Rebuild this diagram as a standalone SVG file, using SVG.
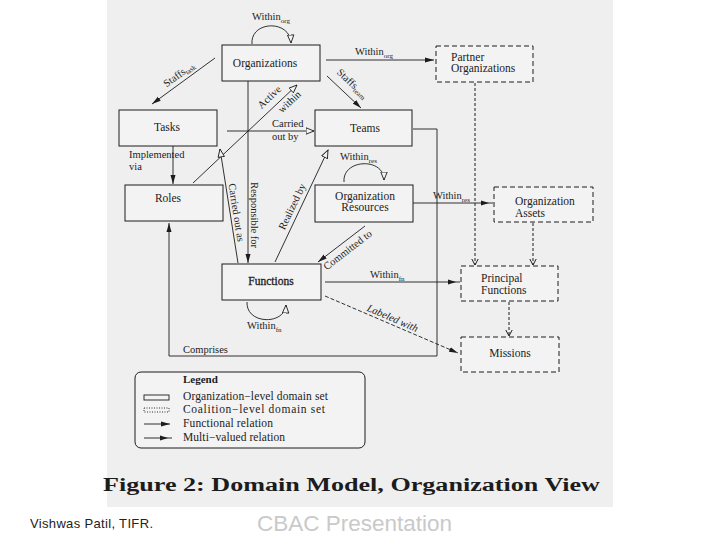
<svg xmlns="http://www.w3.org/2000/svg" width="720" height="540" viewBox="0 0 720 540">
<style>
text{font-family:"Liberation Serif","Times New Roman",serif;fill:#1c1c1c}
.n{font-size:11.5px}
.e{font-size:10.5px}
.s{font-size:7px}
.box{fill:#f3f3f3;stroke:#1c1c1c;stroke-width:1}
.dbox{fill:#f3f3f3;stroke:#1c1c1c;stroke-width:1;stroke-dasharray:5,3}
.ln{fill:none;stroke:#1c1c1c;stroke-width:0.9}
.dl{fill:none;stroke:#1c1c1c;stroke-width:1;stroke-dasharray:3,2}
</style>
<defs>
<marker id="fh" markerUnits="userSpaceOnUse" markerWidth="10" markerHeight="6" refX="9" refY="3" orient="auto"><path d="M0,0.5 L9,3 L0,5.5 z" fill="#1c1c1c"/></marker>
<marker id="oh" markerUnits="userSpaceOnUse" markerWidth="10" markerHeight="8" refX="8.5" refY="4" orient="auto"><path d="M0.5,0.8 L8.5,4 L0.5,7.2 z" fill="#f3f3f3" stroke="#1c1c1c" stroke-width="0.9"/></marker>
<marker id="mh" markerUnits="userSpaceOnUse" markerWidth="13" markerHeight="6" refX="12" refY="3" orient="auto"><path d="M0,0.5 L8,3 L0,5.5 z" fill="#1c1c1c"/></marker>
<marker id="vh" markerUnits="userSpaceOnUse" markerWidth="8" markerHeight="8" refX="6.5" refY="4" orient="auto"><path d="M0.5,0.8 L6.5,4 L0.5,7.2" fill="none" stroke="#1c1c1c" stroke-width="1"/></marker>
</defs>
<rect x="0" y="0" width="720" height="540" fill="#ffffff"/>
<rect x="107" y="0" width="506" height="507" fill="#efefef"/>

<g id="connectors">
<path class="ln" d="M252,44 C250,21 290,19 291,43" marker-end="url(#oh)"/>
<text class="e" x="252" y="20">Within<tspan class="s" dy="2.5">org</tspan></text>
<line class="ln" x1="326" y1="60" x2="434" y2="60" marker-end="url(#fh)"/>
<text class="e" x="355" y="55">Within<tspan class="s" dy="2.5">org</tspan></text>
<line class="ln" x1="215" y1="58" x2="152" y2="104" marker-end="url(#fh)"/>
<text class="e" transform="translate(181,77) rotate(-36)" text-anchor="middle">Staffs<tspan class="s" dy="2">task</tspan></text>
<line class="ln" x1="327" y1="76" x2="361" y2="108" marker-end="url(#fh)"/>
<text class="e" transform="translate(350,86) rotate(43)" text-anchor="middle">Staffs<tspan class="s" dy="2">team</tspan></text>
<line class="ln" x1="193" y1="183" x2="297" y2="85" marker-end="url(#oh)"/>
<text class="e" transform="translate(273,101) rotate(-43.3)" text-anchor="middle" y="-2">Active</text>
<text class="e" transform="translate(285,97) rotate(-43.3)" text-anchor="middle" y="10">within</text>
<line class="ln" x1="227" y1="131" x2="314" y2="131" marker-end="url(#oh)"/>
<text class="e" x="272" y="127">Carried</text>
<text class="e" x="272" y="140">out by</text>
<line class="ln" x1="173" y1="146" x2="173" y2="184" marker-end="url(#fh)"/>
<text class="e" x="129" y="158">Implemented</text>
<text class="e" x="129" y="170">via</text>
<line class="ln" x1="248" y1="81" x2="248" y2="263" marker-end="url(#fh)"/>
<text class="e" transform="translate(251,215) rotate(90)" text-anchor="middle">Responsible for</text>
<line class="ln" x1="238" y1="263" x2="220" y2="149" marker-end="url(#oh)"/>
<text class="e" transform="translate(233,213) rotate(81)" text-anchor="middle">Carried out as</text>
<line class="ln" x1="275" y1="262" x2="328" y2="150" marker-end="url(#oh)"/>
<text class="e" transform="translate(297,209) rotate(-64.3)" text-anchor="middle" y="-2">Realized by</text>
<path class="ln" d="M344,182 C342,159 384,157 384,180" marker-end="url(#oh)"/>
<text class="e" x="340" y="160">Within<tspan class="s" dy="2.5">res</tspan></text>
<line class="ln" x1="413" y1="203" x2="493" y2="203" marker-end="url(#mh)"/>
<text class="e" x="433" y="199">Within<tspan class="s" dy="2.5">res</tspan></text>
<line class="ln" x1="365" y1="226" x2="318" y2="262" marker-end="url(#fh)"/>
<text class="e" transform="translate(343,244) rotate(-37.5)" text-anchor="middle" y="11">Committed to</text>
<line class="ln" x1="325" y1="282" x2="460" y2="282" marker-end="url(#mh)"/>
<text class="e" x="370" y="278">Within<tspan class="s" dy="2.5">fn</tspan></text>
<line class="ln" x1="325" y1="296" x2="458" y2="353" stroke-dasharray="4,2" marker-end="url(#fh)"/>
<text class="e" transform="translate(390,324) rotate(23.5)" text-anchor="middle" y="-3" font-style="italic">Labeled with</text>
<path class="ln" d="M247,302 C246,325 285,325 286,305" marker-end="url(#oh)"/>
<text class="e" x="247" y="329">Within<tspan class="s" dy="2.5">fn</tspan></text>
<path class="ln" d="M413,129 H437 V356 H169 V223" marker-end="url(#fh)"/>
<text class="e" x="183" y="353">Comprises</text>
<line class="dl" x1="475" y1="83" x2="475" y2="265" marker-end="url(#vh)"/>
<line class="dl" x1="533" y1="223" x2="533" y2="265" marker-end="url(#vh)"/>
<line class="dl" x1="509" y1="302" x2="509" y2="336" marker-end="url(#vh)"/>
</g>

<g id="organizations"><rect class="box" x="222" y="45" width="98" height="36"/><text class="n" x="265" y="67" text-anchor="middle">Organizations</text></g>
<g id="partner-organizations"><rect class="dbox" x="436" y="46" width="97" height="36"/><text class="n" x="451" y="61">Partner</text><text class="n" x="451" y="72">Organizations</text></g>
<g id="tasks"><rect class="box" x="119" y="110" width="98" height="36"/><text class="n" x="167" y="131" text-anchor="middle">Tasks</text></g>
<g id="teams"><rect class="box" x="315" y="110" width="97" height="36"/><text class="n" x="365" y="132" text-anchor="middle">Teams</text></g>
<g id="roles"><rect class="box" x="125" y="185" width="98" height="36"/><text class="n" x="168" y="202" text-anchor="middle">Roles</text></g>
<g id="organization-resources"><rect class="box" x="315" y="185" width="98" height="37"/><text class="n" x="365" y="200" text-anchor="middle">Organization</text><text class="n" x="365" y="211" text-anchor="middle">Resources</text></g>
<g id="organization-assets"><rect class="dbox" x="494" y="187" width="99" height="35"/><text class="n" x="515" y="205">Organization</text><text class="n" x="515" y="217">Assets</text></g>
<g id="functions"><rect class="box" x="222" y="264" width="99" height="36"/><text class="n" x="271" y="285" text-anchor="middle" stroke="#1c1c1c" stroke-width="0.3">Functions</text></g>
<g id="principal-functions"><rect class="dbox" x="461" y="266" width="97" height="35"/><text class="n" x="481" y="282">Principal</text><text class="n" x="481" y="294">Functions</text></g>
<g id="missions"><rect class="dbox" x="461" y="337" width="98" height="35"/><text class="n" x="510" y="357" text-anchor="middle">Missions</text></g>

<g id="legend">
<rect x="135" y="372" width="230" height="76" rx="6" fill="#f3f3f3" stroke="#1c1c1c" stroke-width="1"/>
<text x="183" y="383" font-size="11" font-weight="bold">Legend</text>
<rect x="144" y="395" width="25" height="5" fill="none" stroke="#1c1c1c" stroke-width="0.9"/>
<text class="n" x="183" y="400" textLength="145">Organization−level domain set</text>
<rect x="144" y="408" width="25" height="4" fill="none" stroke="#1c1c1c" stroke-width="0.9" stroke-dasharray="1,1.5"/>
<text class="n" x="183" y="413" textLength="142">Coalition−level domain set</text>
<line class="ln" x1="144" y1="424" x2="170" y2="424" marker-end="url(#fh)"/>
<text class="n" x="183" y="427" textLength="90">Functional relation</text>
<line class="ln" x1="144" y1="438" x2="172" y2="438" marker-end="url(#mh)"/>
<text class="n" x="183" y="441" textLength="102">Multi−valued relation</text>
</g>

<text x="103" y="491" font-size="18" font-weight="bold" textLength="497" lengthAdjust="spacingAndGlyphs">Figure 2: Domain Model, Organization View</text>
<text x="30" y="528" font-size="13" style="font-family:'Liberation Sans',Arial,sans-serif;fill:#222" textLength="123">Vishwas Patil, TIFR.</text>
<text x="257" y="531" font-size="22.5" style="font-family:'Liberation Sans',Arial,sans-serif;fill:#c9c9c9">CBAC Presentation</text>
</svg>
